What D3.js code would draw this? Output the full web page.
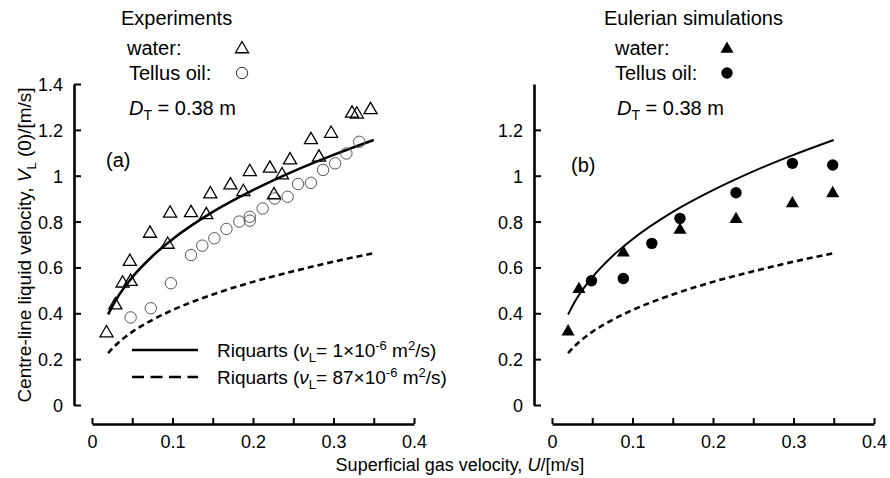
<!DOCTYPE html>
<html>
<head>
<meta charset="utf-8">
<script src="https://cdn.jsdelivr.net/npm/d3@7"></script>
<style>
  body { margin: 0; background: #fff; }
  svg { display: block; font-family: "Liberation Sans", Arial, sans-serif; }
  .axis path, .axis line { stroke: #000; }
  .axis text { font-size: 18px; fill: #000; font-family: "Liberation Sans", Arial, sans-serif; }
</style>
</head>
<body>
<script>
// ticks
const xTicks = [0, 0.05, 0.1, 0.15, 0.2, 0.25, 0.3, 0.35, 0.4];
const xLabels = [0, 0.1, 0.2, 0.3, 0.4];
const yTicksA = [0, 0.2, 0.4, 0.6, 0.8, 1, 1.2, 1.4];
const yTicksB = [0, 0.2, 0.4, 0.6, 0.8, 1, 1.2];

// Riquarts correlation curves
const riqU = [0.02, 0.03, 0.05, 0.075, 0.1, 0.15, 0.2, 0.25, 0.3, 0.35];
const riqWater = [0.395, 0.46, 0.557, 0.649, 0.723, 0.842, 0.937, 1.019, 1.091, 1.156];
const riqOil = [0.226, 0.263, 0.319, 0.371, 0.414, 0.482, 0.537, 0.583, 0.625, 0.662];

// (a) experiments
const expWaterU = [0.018, 0.029, 0.038, 0.048, 0.047, 0.072, 0.094, 0.097, 0.123, 0.142, 0.147, 0.172,
                   0.188, 0.196, 0.221, 0.226, 0.236, 0.246, 0.272, 0.282, 0.297, 0.323, 0.329, 0.346];
const expWaterV = [0.314, 0.436, 0.531, 0.538, 0.625, 0.748, 0.700, 0.836, 0.838, 0.829, 0.920, 0.959,
                   0.930, 1.017, 1.032, 0.916, 1.003, 1.068, 1.156, 1.080, 1.184, 1.272, 1.268, 1.287];
const expOilU = [0.048, 0.073, 0.098, 0.123, 0.137, 0.152, 0.167, 0.183, 0.196, 0.196, 0.212, 0.227,
                 0.243, 0.256, 0.272, 0.287, 0.302, 0.316, 0.332];
const expOilV = [0.382, 0.422, 0.531, 0.654, 0.695, 0.727, 0.768, 0.800, 0.821, 0.804, 0.857, 0.901,
                 0.908, 0.964, 0.969, 1.025, 1.054, 1.097, 1.148];

// (b) Eulerian simulations
const simWaterU = [0.020, 0.0335, 0.0886, 0.159, 0.2286, 0.2986, 0.3487];
const simWaterV = [0.320, 0.505, 0.664, 0.763, 0.810, 0.879, 0.923];
const simOilU = [0.049, 0.0886, 0.124, 0.159, 0.2286, 0.2986, 0.3487];
const simOilV = [0.542, 0.552, 0.705, 0.814, 0.926, 1.054, 1.047];

const W = 890, H = 478;
const svg = d3.select("body").append("svg").attr("width", W).attr("height", H);
svg.append("rect").attr("width", W).attr("height", H).attr("fill", "#fff");

const zip = (u, v) => u.map((d, i) => [d, v[i]]);
const tri = d3.symbol().type(d3.symbolTriangle).size(74);

function panel(opt) {
  const x = d3.scaleLinear().domain([0, 0.4]).range([opt.x0, opt.x0 + 322]);
  const y = d3.scaleLinear().domain([0, 1.4]).range([405, 84]);

  // y axis
  const ya = svg.append("g").attr("class", "axis")
    .attr("transform", "translate(" + opt.yAxisX + ",0)")
    .call(d3.axisLeft(y).tickValues(opt.yTicks).tickSize(-7).tickSizeOuter(0).tickPadding(11)
      .tickFormat(d => String(d)));
  ya.select(".domain").attr("stroke-width", 2.6);
  ya.selectAll(".tick line").attr("stroke-width", 2);
  ya.selectAll(".tick text").attr("dy", "0.36em");

  // x axis
  const xa = svg.append("g").attr("class", "axis")
    .attr("transform", "translate(0,424)")
    .call(d3.axisBottom(x).tickValues(xTicks).tickSize(-6).tickSizeOuter(0).tickPadding(11)
      .tickFormat(d => xLabels.includes(d) ? String(d) : ""));
  xa.select(".domain").attr("stroke-width", 2.6);
  xa.selectAll(".tick line").attr("stroke-width", 2);

  const line = d3.line().x(d => x(d[0])).y(d => y(d[1])).curve(d3.curveMonotoneX);
  svg.append("path").datum(zip(riqU, riqWater)).attr("d", line)
    .attr("fill", "none").attr("stroke", "#000").attr("stroke-width", opt.solidW);
  svg.append("path").datum(zip(riqU, riqOil)).attr("d", line)
    .attr("fill", "none").attr("stroke", "#000").attr("stroke-width", 2.6)
    .attr("stroke-dasharray", "6,4");

  return { x, y };
}

// ---- panel (a)
const a = panel({ x0: 92, yAxisX: 74, yTicks: yTicksA, solidW: 2.6 });
svg.append("g").selectAll("circle").data(zip(expOilU, expOilV)).enter().append("circle")
  .attr("cx", d => a.x(d[0])).attr("cy", d => a.y(d[1])).attr("r", 5.7)
  .attr("fill", "none").attr("stroke", "#555").attr("stroke-width", 1);
svg.append("g").selectAll("path").data(zip(expWaterU, expWaterV)).enter().append("path")
  .attr("d", tri).attr("transform", d => "translate(" + a.x(d[0]) + "," + a.y(d[1]) + ")")
  .attr("fill", "none").attr("stroke", "#000").attr("stroke-width", 1.3);

// ---- panel (b)
const b = panel({ x0: 552, yAxisX: 534, yTicks: yTicksB, solidW: 2 });
svg.append("g").selectAll("circle").data(zip(simOilU, simOilV)).enter().append("circle")
  .attr("cx", d => b.x(d[0])).attr("cy", d => b.y(d[1])).attr("r", 5.7).attr("fill", "#000");
svg.append("g").selectAll("path").data(zip(simWaterU, simWaterV)).enter().append("path")
  .attr("d", tri).attr("transform", d => "translate(" + b.x(d[0]) + "," + b.y(d[1]) + ")")
  .attr("fill", "#000");

// ---- annotations
function txt(xp, yp, size) {
  return svg.append("text").attr("x", xp).attr("y", yp).attr("font-size", size).attr("fill", "#000");
}
function dtLabel(xp, yp) {
  const t = txt(xp, yp, 20);
  t.append("tspan").attr("font-style", "italic").text("D");
  t.append("tspan").attr("font-size", 14).attr("dy", 5).text("T");
  t.append("tspan").attr("dy", -5).text(" = 0.38 m");
}

txt(121, 25, 20).text("Experiments");
txt(127, 55, 20).text("water:");
txt(129, 80, 20).text("Tellus oil:");
svg.append("path").attr("d", tri).attr("transform", "translate(242,49)")
  .attr("fill", "none").attr("stroke", "#000").attr("stroke-width", 1.3);
svg.append("circle").attr("cx", 242).attr("cy", 73).attr("r", 5.7)
  .attr("fill", "none").attr("stroke", "#333").attr("stroke-width", 1);
dtLabel(129, 115);
txt(106, 167, 20).text("(a)");

txt(604, 25, 20).text("Eulerian simulations");
txt(615, 55, 20).text("water:");
txt(615, 80, 20).text("Tellus oil:");
svg.append("path").attr("d", tri).attr("transform", "translate(727,49)").attr("fill", "#000");
svg.append("circle").attr("cx", 727).attr("cy", 73).attr("r", 5.7).attr("fill", "#000");
dtLabel(617, 115);
txt(571, 172, 20).text("(b)");

// legend for the Riquarts curves
function riqLegend(yp, nuVal, dashed) {
  svg.append("line").attr("x1", 132).attr("x2", 198).attr("y1", yp).attr("y2", yp)
    .attr("stroke", "#000").attr("stroke-width", 2.6)
    .attr("stroke-dasharray", dashed ? "12,6.5" : null);
  const t = txt(217, yp + 7, 19);
  t.append("tspan").text("Riquarts (");
  t.append("tspan").attr("font-style", "italic").text("ν");
  t.append("tspan").attr("font-size", 13).attr("dy", 5).text("L");
  t.append("tspan").attr("dy", -5).text("= " + nuVal + "×10");
  t.append("tspan").attr("font-size", 13).attr("dy", -7).text("-6");
  t.append("tspan").attr("dy", 7).text(" m");
  t.append("tspan").attr("font-size", 13).attr("dy", -7).text("2");
  t.append("tspan").attr("dy", 7).text("/s)");
}
riqLegend(350, "1", false);
riqLegend(377, "87", true);

// axis titles
const yt = txt(0, 0, 19).attr("text-anchor", "middle").attr("transform", "translate(31,245) rotate(-90)");
yt.append("tspan").text("Centre-line liquid velocity, ");
yt.append("tspan").attr("font-style", "italic").text("V");
yt.append("tspan").attr("font-size", 13).attr("dy", 5).text("L");
yt.append("tspan").attr("dy", -5).text(" (0)/[m/s]");

const xt = txt(460, 471, 18).attr("text-anchor", "middle");
xt.append("tspan").text("Superficial gas velocity, ");
xt.append("tspan").attr("font-style", "italic").text("U");
xt.append("tspan").text("/[m/s]");
</script>
</body>
</html>
